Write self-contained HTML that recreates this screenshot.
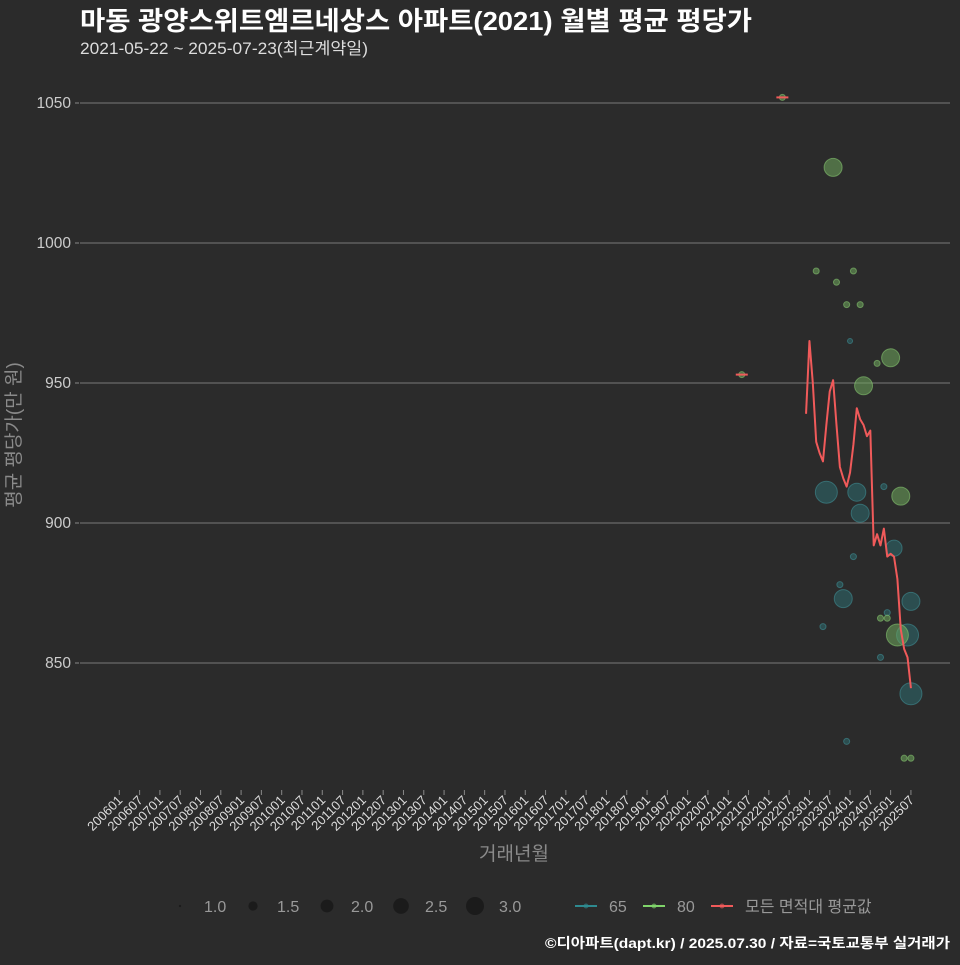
<!DOCTYPE html>
<html><head><meta charset="utf-8"><style>
html,body{margin:0;padding:0;background:#2b2b2b;}
svg text{font-family:"Liberation Sans","Noto Sans CJK KR",sans-serif;}
</style></head><body>
<svg id="chart" width="960" height="960" xmlns="http://www.w3.org/2000/svg">
<rect x="0" y="0" width="960" height="960" fill="#2b2b2b"/>
<text x="80" y="30" font-size="26" font-weight="bold" fill="#ffffff" textLength="672" lengthAdjust="spacingAndGlyphs">마동 광양스위트엠르네상스 아파트(2021) 월별 평균 평당가</text>
<text x="80" y="54" font-size="16.5" fill="#dddddd" textLength="288" lengthAdjust="spacingAndGlyphs">2021-05-22 ~ 2025-07-23(최근계약일)</text>
<g id="grid"></g>
<g id="yaxis"></g>
<g id="xaxis"></g>
<g id="marks"></g>
<text transform="translate(20,435) rotate(-90)" text-anchor="middle" font-size="19" fill="#8a8a8a">평균 평당가(만 원)</text>
<text x="514" y="860" text-anchor="middle" font-size="19" fill="#8a8a8a">거래년월</text>
<g id="legend"></g>
<text x="950" y="948" text-anchor="end" font-size="14" font-weight="bold" fill="#ffffff" textLength="405" lengthAdjust="spacingAndGlyphs">©디아파트(dapt.kr) / 2025.07.30 / 자료=국토교통부 실거래가</text>
</svg>
<script>
const yTicks = [850, 900, 950, 1000, 1050];
const avgMonths = [203,204,205,206,207,208,209,210,211,212,213,214,215,216,217,218,219,220,221,222,223,224,225,226,227,228,229,230,231,232,233,234];
const avgValues = [939,965,950,929,925,922,935,947,951,935,920,916,913,918,928,941,937,935,931,933,892,896,892,898,888,889,888,880,862,855,852,841];
const singleAvgMonths = [184,196];
const singleAvgValues = [953,1052];
const greenMonths = [184,196,211,206,217,212,215,219,224,228,220,231,225,227,230,232,234];
const greenValues = [953,1052,1027,990,990,986,978,978,957,959,949,909.6,866,866,860,816,816];
const greenSizes = [1.2,1.2,3.0,1.2,1.2,1.2,1.2,1.2,1.2,3.0,3.0,3.0,1.2,1.2,4.0,1.2,1.2];
const tealMonths = [216,209,218,226,219,229,217,213,214,234,227,208,233,225,234,215];
const tealValues = [965,911,911,913,903.5,891,888,878,873,872,868,863,860,852,839,822];
const tealSizes = [1.13,4.0,3.0,1.2,3.0,2.6,1.2,1.2,3.0,3.0,1.2,1.2,4.0,1.2,4.0,1.2];
const legendSizes = [1.0,1.5,2.0,2.5,3.0];

const NS='http://www.w3.org/2000/svg';
function X(m){return 119.3+3.383*m;}
function Y(v){return 663-(v-850)*2.8;}
function R(s){return 9*Math.sqrt(Math.max(s-0.97,0.01)/2.03);}
function mk(tag,attrs,parent){const e=document.createElementNS(NS,tag);for(const k in attrs)e.setAttribute(k,attrs[k]);parent.appendChild(e);return e;}
const grid=document.getElementById('grid'),yax=document.getElementById('yaxis'),xax=document.getElementById('xaxis'),marks=document.getElementById('marks'),leg=document.getElementById('legend');
yTicks.forEach(v=>{
  const l=mk('line',{x1:80,x2:950,y1:Y(v),y2:Y(v),stroke:'#6a6a6a','stroke-width':1.2},grid);
  
  
  const t=mk('line',{x1:75,x2:79,y1:Y(v),y2:Y(v),stroke:'#888'},yax);
  
  
  const tx=mk('text',{x:71,y:Y(v)+5,'text-anchor':'end','font-size':15.5,fill:'#cccccc'},yax);
  tx.textContent=v;
  
  
});
for(let i=0;i<40;i++){
  const m=i*6, yr=2006+Math.floor(i/2), mo=i%2?'07':'01';
  const x=X(m);
  const t=mk('line',{x1:x,x2:x,y1:790,y2:795,stroke:'#888'},xax);
  
  
  const tx=mk('text',{transform:`translate(${x+4},${801}) rotate(-45)`,'text-anchor':'end','font-size':13,fill:'#dddddd'},xax);
  tx.textContent=yr+mo;
  
  
}
function bubbles(ms,vs,ss,fill,stroke,name){
  ms.forEach((m,i)=>{
    const c=mk('circle',{cx:X(m),cy:Y(vs[i]),r:R(ss[i]),fill:fill,'fill-opacity':0.55,stroke:stroke,'stroke-opacity':0.6,'stroke-width':1},marks);
    
    
  });
}
bubbles(tealMonths,tealValues,tealSizes,'#2e6b70','#3f8e94','bubble-65');
bubbles(greenMonths,greenValues,greenSizes,'#6fa85c','#86c46f','bubble-80');
const pts=avgMonths.map((m,i)=>X(m)+','+Y(avgValues[i])).join(' ');
const pl=mk('polyline',{points:pts,fill:'none',stroke:'#f05a5a','stroke-width':2,'stroke-linejoin':'round'},marks);


singleAvgMonths.forEach((m,i)=>{
  const l=mk('line',{x1:X(m)-6,x2:X(m)+6,y1:Y(singleAvgValues[i]),y2:Y(singleAvgValues[i]),stroke:'#f05a5a','stroke-width':2},marks);
  
  
});
const lx=[180,253,327,401,475];
legendSizes.forEach((s,i)=>{
  const c=mk('circle',{cx:lx[i],cy:906,r:R(s),fill:'#1b1b1b'},leg);
  
  
  const t=mk('text',{x:lx[i]+24,y:912,'font-size':16,fill:'#999999'},leg);
  t.textContent=s.toFixed(1);
  
  
});
const items=[['65','#2e8a90',575],['80','#7fd46a',643],['모든 면적대 평균값','#f05a5a',711]];
items.forEach(([lab,col,x])=>{
  const l=mk('line',{x1:x,x2:x+22,y1:906,y2:906,stroke:col,'stroke-width':2},leg);
  
  
  const c=mk('circle',{cx:x+11,cy:906,r:2.5,fill:col,'fill-opacity':0.6},leg);
  
  
  const t=mk('text',{x:x+34,y:912,'font-size':16,fill:'#999999'},leg);
  t.textContent=lab;
  
  
});
</script>
</body></html>
